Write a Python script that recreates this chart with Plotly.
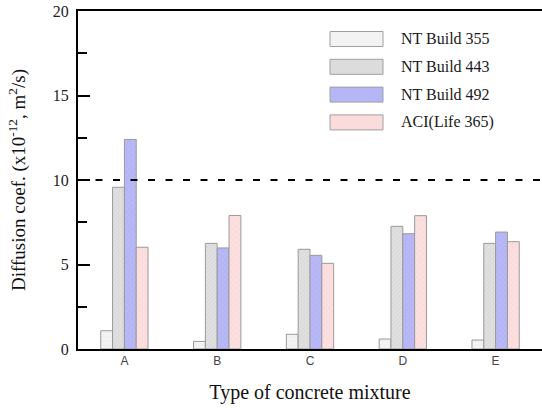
import plotly.graph_objects as go

# Concrete mixtures and chloride diffusion coefficients (x10^-12 m^2/s) by test method
mixtures = ["A", "B", "C", "D", "E"]
nt_build_355 = [1.08, 0.45, 0.87, 0.59, 0.53]
nt_build_443 = [9.57, 6.25, 5.90, 7.26, 6.25]
nt_build_492 = [12.40, 5.98, 5.54, 6.82, 6.92]
aci_life_365 = [6.02, 7.90, 5.07, 7.89, 6.35]
series_names = ["NT Build 355", "NT Build 443", "NT Build 492", "ACI(Life 365)"]
limit_value = 10

serif = "Liberation Serif"
fills = ["#f3f3f3", "#dcdcdc", "#b6b6f6", "#fbdcdc"]
patterns = [
    dict(shape="-", fgcolor="#dadada", bgcolor="#f3f3f3", size=4, solidity=0.15),
    dict(shape="/", fgcolor="#c2c2c2", bgcolor="#e0e0e0", size=3, solidity=0.25),
    dict(shape="x", fgcolor="#a0a0ea", bgcolor="#b8b8f7", size=4, solidity=0.2),
    dict(shape="x", fgcolor="#f1c8c8", bgcolor="#fcdfdf", size=4, solidity=0.2),
]
series = [nt_build_355, nt_build_443, nt_build_492, aci_life_365]

fig = go.Figure()
for name, vals, col, pat in zip(series_names, series, fills, patterns):
    fig.add_trace(go.Bar(
        x=mixtures, y=vals, name=name,
        marker=dict(color=col, pattern=pat, line=dict(color="#9a9a9a", width=1)),
        showlegend=False,
    ))

# Reference limit line
fig.add_shape(type="line", xref="x domain", yref="y", x0=0, x1=1,
              y0=limit_value, y1=limit_value,
              line=dict(color="black", width=2, dash="7px,10.5px"))

# Legend drawn as swatches with labels
for i, (name, col) in enumerate(zip(series_names, fills)):
    yc = 39 + i * 27.8
    fig.add_shape(type="rect", xref="paper", yref="paper",
                  x0=(330 - 78) / 464, x1=(383 - 78) / 464,
                  y0=(349 - (yc + 7.5)) / 338, y1=(349 - (yc - 7.5)) / 338,
                  fillcolor=col, line=dict(color="#a0a0a0", width=1))
    fig.add_annotation(xref="paper", yref="paper",
                       x=(399 - 78) / 464, y=(349 - yc) / 338,
                       text=name, showarrow=False, xanchor="left", yanchor="middle",
                       font=dict(family=serif, size=16, color="#1a1a1a"))

fig.update_layout(
    width=542, height=408,
    margin=dict(l=78, r=0, t=11, b=59),
    paper_bgcolor="white", plot_bgcolor="white",
    barmode="group", bargap=0.49, bargroupgap=0,
    xaxis=dict(
        range=[-0.5, 4.5],
        showline=True, linecolor="black", linewidth=2, mirror=True,
        ticks="", showgrid=False, zeroline=False,
        tickfont=dict(family="Liberation Sans", size=12, color="#444"),
        title=dict(text="Type of concrete mixture",
                   font=dict(family=serif, size=20, color="#111"), standoff=18),
    ),
    yaxis=dict(
        range=[0, 20], tickvals=[0, 5, 10, 15, 20],
        showline=True, linecolor="black", linewidth=2,
        ticks="inside", ticklen=12, tickwidth=2, tickcolor="black",
        minor=dict(tickvals=[2.5, 7.5, 12.5, 17.5], ticks="inside",
                   ticklen=9, tickwidth=2, tickcolor="black"),
        showgrid=False, zeroline=False,
        tickfont=dict(family=serif, size=16, color="#222"),
        ticklabelstandoff=4,
        title=dict(text="Diffusion coef. (x10<sup>-12</sup>, m<sup>2</sup>/s)",
                   font=dict(family=serif, size=19, color="#111"), standoff=22),
    ),
)

fig.write_html("out.html")
